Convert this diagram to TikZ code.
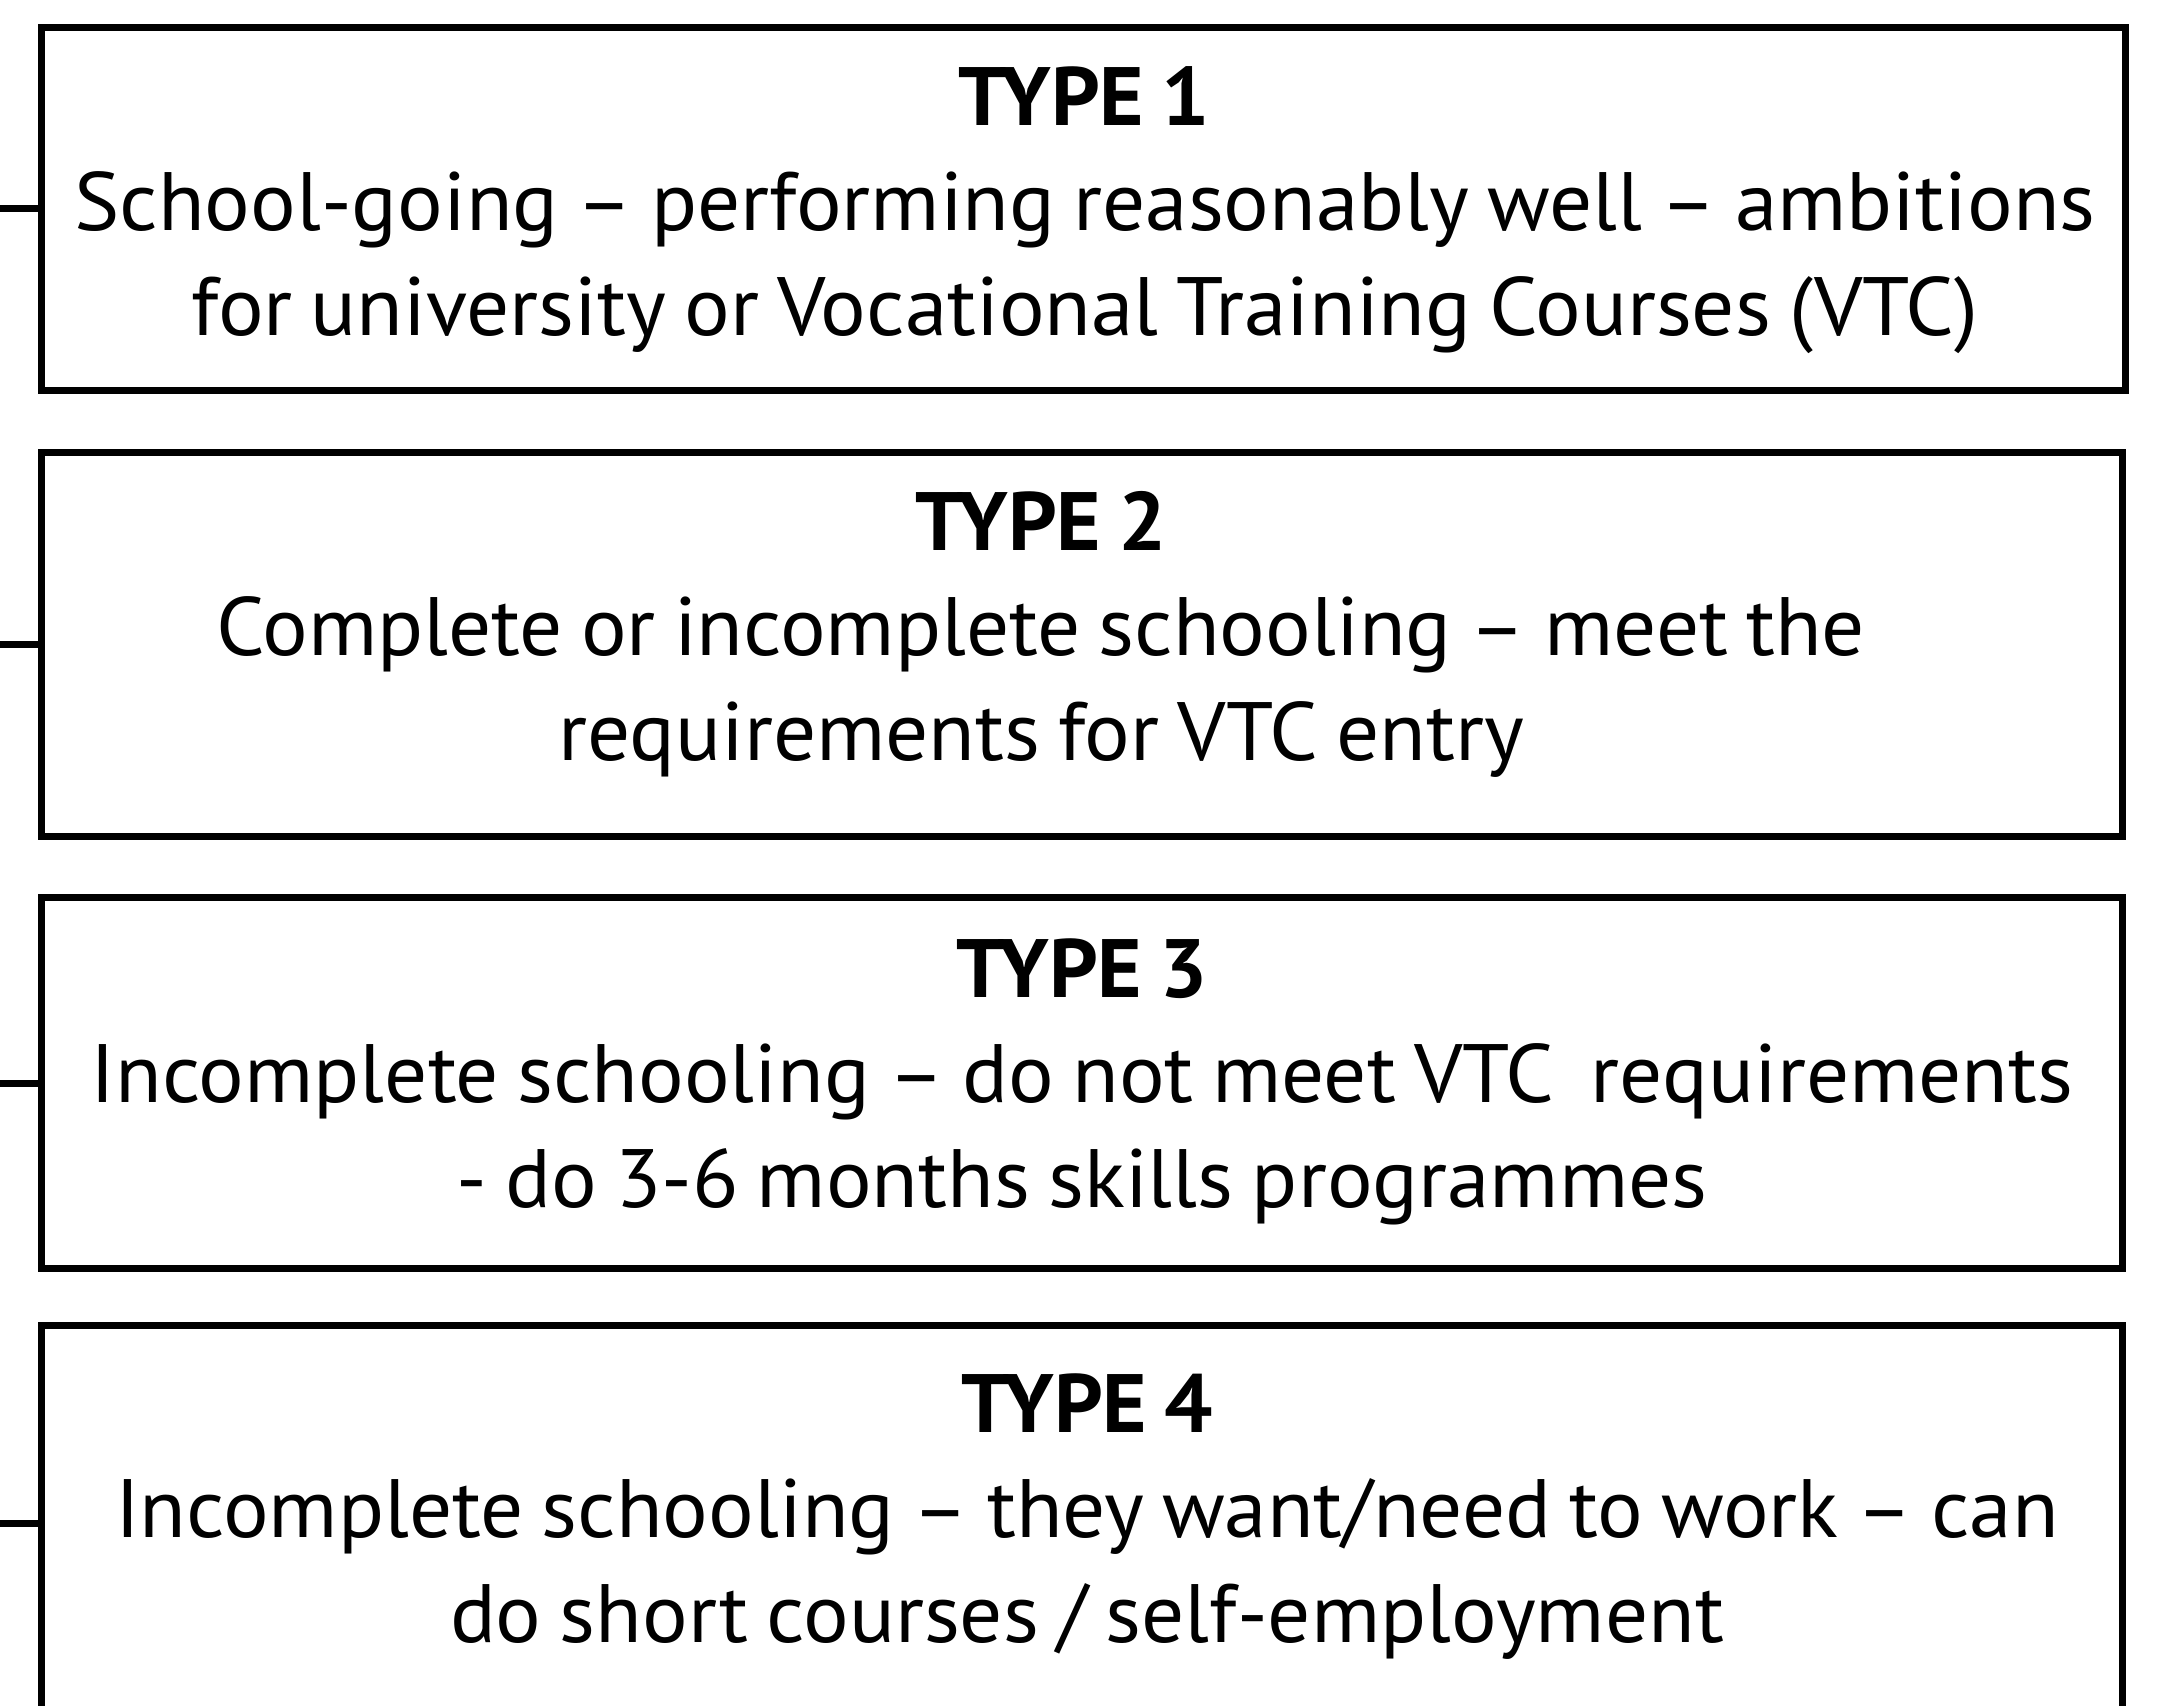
\documentclass[tikz,border=0pt]{standalone}
\usepackage{fontspec}
\setmainfont[FakeStretch=1.03,WordSpace=0.8]{PT Sans}
\begin{document}
\begin{tikzpicture}[x=0.5pt,y=-0.5pt,
  typebox/.style={draw=black, line width=3.5pt, inner sep=0pt, outer sep=0pt},
  stub/.style={draw=black, line width=3.5pt},
  title/.style={anchor=base, inner sep=0pt, font=\fontsize{41.4}{52.5}\selectfont\bfseries},
  body/.style={anchor=base, inner sep=0pt, font=\fontsize{41.4}{52.5}\selectfont}]
\useasboundingbox (0,0) rectangle (2168,1705);
\clip (0,0) rectangle (2168,1705);

% frames
\node[typebox, minimum width=1042.25pt, minimum height=181.5pt] (b1) at (1083.25,208.5) {};
\node[typebox, minimum width=1040.65pt, minimum height=191.8pt] (b2) at (1081.65,644.5) {};
\node[typebox, minimum width=1040.65pt, minimum height=185.3pt] (b3) at (1081.65,1083) {};
\node[typebox, minimum width=1040.65pt, minimum height=198pt] (b4) at (1081.65,1523) {};

% branches coming in from the left
\coordinate (s1) at (0,208.5);
\coordinate (s2) at (0,644.5);
\coordinate (s3) at (0,1083);
\coordinate (s4) at (0,1523);
\draw[stub] (s1) -- (b1.west);
\draw[stub] (s2) -- (b2.west);
\draw[stub] (s3) -- (b3.west);
\draw[stub] (s4) -- (b4.west);

% type 1
\node[title] (t1) at (1084,125) {TYPE 1};
\node[body] (t1a) at (1085,230) {School-going – performing reasonably well – ambitions};
\node[body] (t1b) at (1085,335) {for university or Vocational Training Courses (VTC)};

% type 2
\node[title] (t2) at (1041,550) {TYPE 2};
\node[body] (t2a) at (1041,655) {Complete or incomplete schooling – meet the};
\node[body] (t2b) at (1041,760) {requirements for VTC entry};

% type 3
\node[title] (t3) at (1082,997) {TYPE 3};
\node[body] (t3a) at (1082,1102) {Incomplete schooling – do not meet VTC\ \ requirements};
\node[body] (t3b) at (1082,1207) {- do 3-6 months skills programmes};

% type 4
\node[title] (t4) at (1087,1432) {TYPE 4};
\node[body] (t4a) at (1087,1537) {Incomplete schooling – they want/need to work – can};
\node[body] (t4b) at (1087,1642) {do short courses / self-employment};
\end{tikzpicture}
\end{document}
